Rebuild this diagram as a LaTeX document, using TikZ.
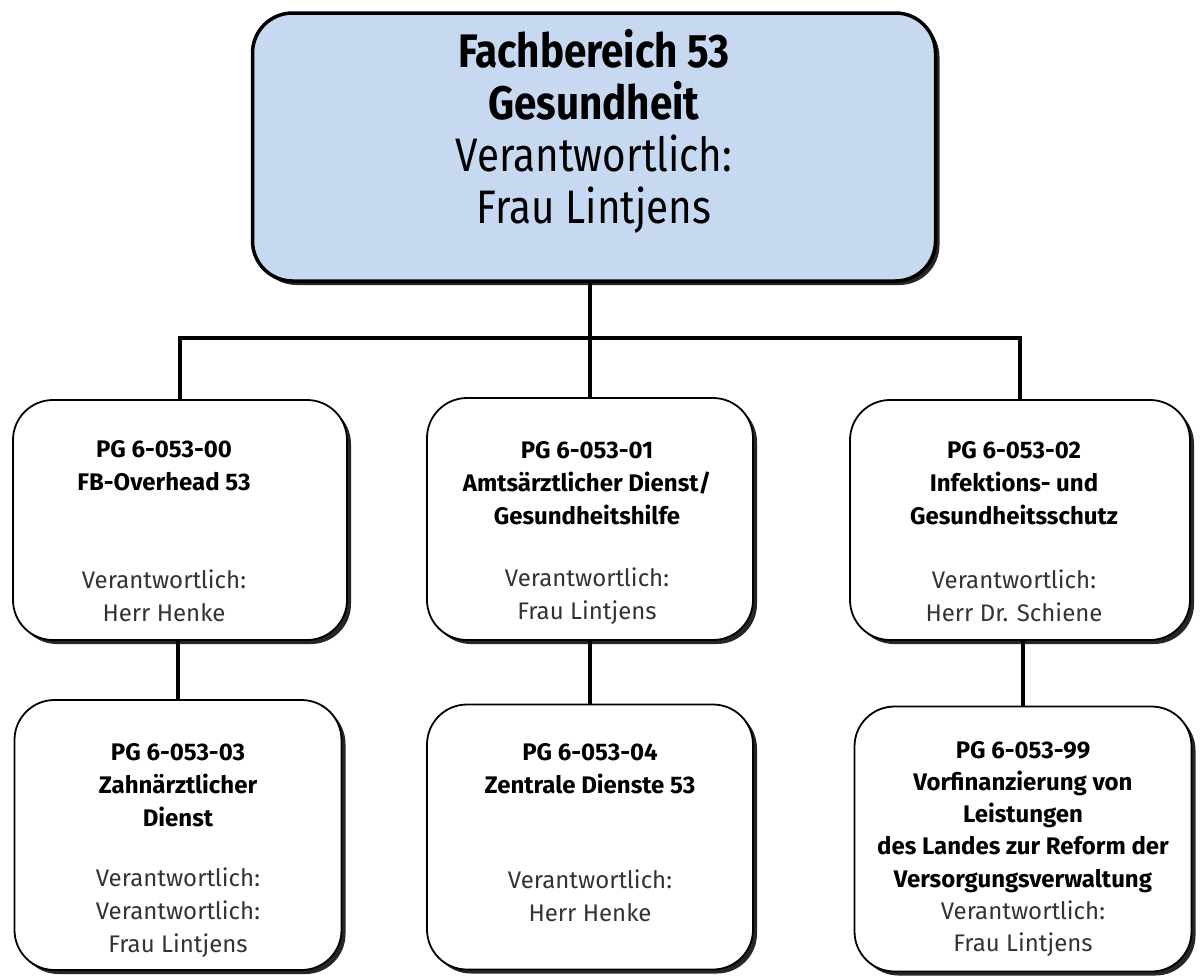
\documentclass[tikz,border=0pt]{standalone}
\usepackage{fontspec}
\setmainfont{Fira Sans}
\newfontfamily\condfont{Fira Sans}[FakeStretch=0.86]
\usetikzlibrary{shadows}
\definecolor{topblue}{HTML}{C6D9F1}
\tikzset{
  orgbox/.style={draw=black, line width=1.8pt, fill=white, rounded corners=40pt,
    inner sep=0pt, drop shadow={shadow xshift=4pt, shadow yshift=-4pt, fill=black, opacity=0.85}},
  headbox/.style={orgbox, line width=3.5pt, fill=topblue},
  link/.style={line width=3.4pt, black},
  boxtext/.style={align=center, inner sep=0pt, font=\fontsize{24}{33}\selectfont},
  boldtext/.style={boxtext, font=\bfseries\fontsize{24}{33}\selectfont},
  headtext/.style={align=center, inner sep=0pt, font=\condfont\fontsize{47}{52}\selectfont},
  resp/.style={boxtext, text=black!80}
}
\begin{document}
\begin{tikzpicture}[x=1pt,y=-1pt]
\useasboundingbox (0,0) rectangle (1201,978);
% boxes
\node[headbox, minimum width=683pt, minimum height=268pt] (top) at (594,147) {};
\node[orgbox, minimum width=334pt, minimum height=240pt] (b1) at (180,520) {};
\node[orgbox, minimum width=326pt, minimum height=242pt] (b2) at (590,519) {};
\node[orgbox, minimum width=340pt, minimum height=240pt] (b3) at (1020,520) {};
\node[orgbox, minimum width=327pt, minimum height=270pt] (b4) at (178,835) {};
\node[orgbox, minimum width=326pt, minimum height=265pt] (b5) at (590,837) {};
\node[orgbox, minimum width=337pt, minimum height=265pt] (b6) at (1023,839) {};
% connectors
\coordinate (bus) at (590,338);
\draw[link] (top.south -| bus) -- (bus);
\draw[link] (b1.north) |- (bus) -| (b3.north);
\draw[link] (bus) -- (b2.north);
\draw[link] (b1.south -| b4.north) -- (b4.north);
\draw[link] (b2.south) -- (b5.north);
\draw[link] (b3.south -| b6.north) -- (b6.north);
% texts
\node[headtext] (tt) at (594,131) {\textbf{Fachbereich 53}\\\textbf{Gesundheit}\\Verantwortlich:\\Frau Lintjens};
\node[boldtext] (t1) at (164,466) {PG 6-053-00\\FB-Overhead 53};
\node[resp] (r1) at (164,596) {Verantwortlich:\\Herr Henke};
\node[boldtext] (t2) at (587,483) {PG 6-053-01\\Amtsärztlicher Dienst/\\Gesundheitshilfe};
\node[resp] (r2) at (587,596) {Verantwortlich:\\Frau Lintjens};
\node[boldtext] (t3) at (1014,483) {PG 6-053-02\\Infektions- und\\Gesundheitsschutz};
\node[resp] (r3) at (1014,596) {Verantwortlich:\\Herr Dr. Schiene};
\node[boldtext] (t4) at (178,785) {PG 6-053-03\\Zahnärztlicher\\Dienst};
\node[resp] (r4) at (178,913) {Verantwortlich:\\Verantwortlich:\\Frau Lintjens};
\node[boldtext] (t5) at (590,769) {PG 6-053-04\\Zentrale Dienste 53};
\node[resp] (r5) at (590,896) {Verantwortlich:\\Herr Henke};
\node[boxtext, font=\fontsize{24}{32.3}\selectfont] (t6) at (1023,849) {\textbf{PG 6-053-99}\\\textbf{Vorfinanzierung von}\\\textbf{Leistungen}\\\textbf{des Landes zur Reform der}\\\textbf{Versorgungsverwaltung}\\\textcolor{black!80}{Verantwortlich:}\\\textcolor{black!80}{Frau Lintjens}};
\end{tikzpicture}
\end{document}
